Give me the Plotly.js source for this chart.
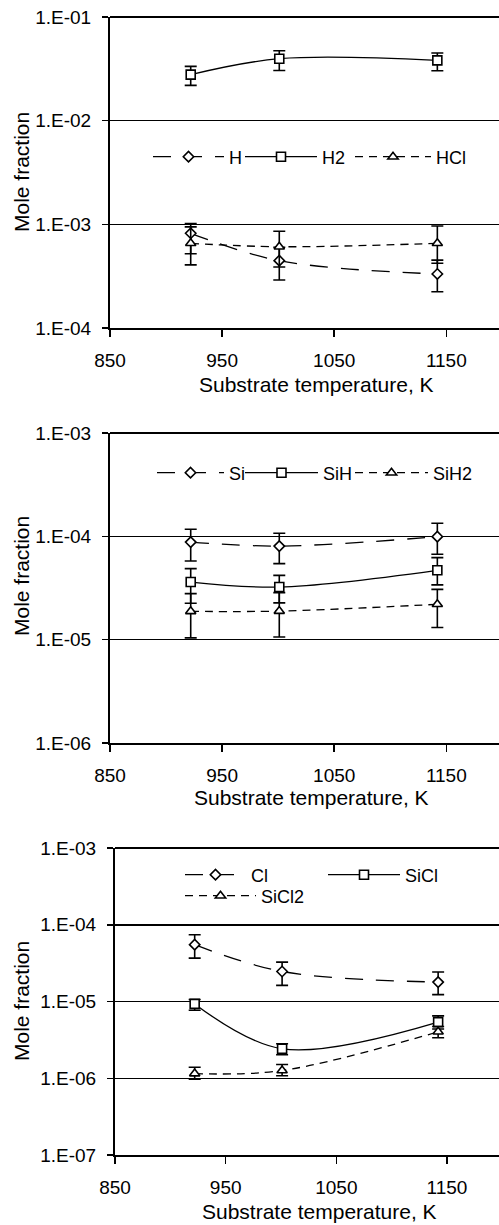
<!DOCTYPE html>
<html><head><meta charset="utf-8">
<script src="https://cdn.plot.ly/plotly-3.0.1.min.js"></script>
<style>html,body{margin:0;padding:0;background:#fff}#chart{width:499px;height:1225px}</style>
</head><body><div id="chart"></div>
<script>
// ---- data ----
const temps = [922, 1001, 1142];

// Panel 1
const H = [8.2e-4, 4.46e-4, 3.32e-4];
const H_plus = [2.0e-4, 1.56e-4, 1.2e-4];
const H_minus = [3.0e-4, 1.56e-4, 1.08e-4];
const H2 = [2.78e-2, 3.96e-2, 3.82e-2];
const H2_plus = [0.56e-2, 0.77e-2, 0.68e-2];
const H2_minus = [0.59e-2, 0.91e-2, 0.79e-2];
const HCl = [6.56e-4, 6.08e-4, 6.56e-4];
const HCl_plus = [2.9e-4, 2.5e-4, 3.07e-4];
const HCl_minus = [2.5e-4, 2.2e-4, 2.35e-4];

// Panel 2
const Si = [8.8e-5, 8.05e-5, 9.93e-5];
const Si_plus = [2.9e-5, 2.65e-5, 3.47e-5];
const Si_minus = [3.03e-5, 2.61e-5, 3.23e-5];
const SiH = [3.61e-5, 3.23e-5, 4.69e-5];
const SiH_plus = [1.26e-5, 0.96e-5, 1.53e-5];
const SiH_minus = [1.36e-5, 0.96e-5, 1.3e-5];
const SiH2 = [1.88e-5, 1.89e-5, 2.2e-5];
const SiH2_plus = [0.91e-5, 0.96e-5, 0.87e-5];
const SiH2_minus = [0.84e-5, 0.83e-5, 0.89e-5];

// Panel 3
const Cl = [5.5e-5, 2.46e-5, 1.79e-5];
const Cl_plus = [1.9e-5, 0.8e-5, 0.63e-5];
const Cl_minus = [1.83e-5, 0.84e-5, 0.56e-5];
const SiCl = [9.3e-6, 2.42e-6, 5.39e-6];
const SiCl_plus = [1.3e-6, 0.4e-6, 1.1e-6];
const SiCl_minus = [1.6e-6, 0.4e-6, 1.0e-6];
const SiCl2 = [1.15e-6, 1.26e-6, 4.03e-6];
const SiCl2_plus = [0.24e-6, 0.25e-6, 0.7e-6];
const SiCl2_minus = [0.18e-6, 0.18e-6, 0.66e-6];

// ticks
const xTicks = [850, 950, 1050, 1150];
const yTicks1 = [1e-4, 1e-3, 1e-2, 1e-1];
const yLabels1 = ['1.E-04', '1.E-03', '1.E-02', '1.E-01'];
const yTicks2 = [1e-6, 1e-5, 1e-4, 1e-3];
const yLabels2 = ['1.E-06', '1.E-05', '1.E-04', '1.E-03'];
const yTicks3 = [1e-7, 1e-6, 1e-5, 1e-4, 1e-3];
const yLabels3 = ['1.E-07', '1.E-06', '1.E-05', '1.E-04', '1.E-03'];

const xTitle = 'Substrate temperature, K';
const yTitle = 'Mole fraction';

// ---- styling ----
const LONG = '18px,13px';
const SHORT = '8px,6px';
const SYM = {
  diamond: {symbol: 'diamond', size: 8},
  square: {symbol: 'square', size: 9},
  triangle: {symbol: 'triangle-up', size: 9}
};

function tr(name, y, plus, minus, xa, ya, sym, dash, legend) {
  return {
    type: 'scatter', mode: 'lines+markers', x: temps, y: y, name: name,
    xaxis: xa, yaxis: ya, legend: legend,
    line: {color: '#000', width: 1.3, dash: dash, shape: 'spline', smoothing: 1},
    marker: {symbol: SYM[sym].symbol, size: SYM[sym].size, color: '#fff', line: {color: '#000', width: 1.6}},
    error_y: {type: 'data', symmetric: false, array: plus, arrayminus: minus, color: '#000', thickness: 1.6, width: 6},
    cliponaxis: false
  };
}

const data = [
  tr('H', H, H_plus, H_minus, 'x', 'y', 'diamond', LONG, 'legend'),
  tr('H2', H2, H2_plus, H2_minus, 'x', 'y', 'square', 'solid', 'legend2'),
  tr('HCl', HCl, HCl_plus, HCl_minus, 'x', 'y', 'triangle', SHORT, 'legend3'),
  tr('Si', Si, Si_plus, Si_minus, 'x2', 'y2', 'diamond', LONG, 'legend4'),
  tr('SiH', SiH, SiH_plus, SiH_minus, 'x2', 'y2', 'square', 'solid', 'legend5'),
  tr('SiH2', SiH2, SiH2_plus, SiH2_minus, 'x2', 'y2', 'triangle', SHORT, 'legend6'),
  tr('Cl', Cl, Cl_plus, Cl_minus, 'x3', 'y3', 'diamond', LONG, 'legend7'),
  tr('SiCl', SiCl, SiCl_plus, SiCl_minus, 'x3', 'y3', 'square', 'solid', 'legend8'),
  tr('SiCl2', SiCl2, SiCl2_plus, SiCl2_minus, 'x3', 'y3', 'triangle', SHORT, 'legend9')
];

const W = 499, Hh = 1225;
const px = v => v / W;
const py = v => 1 - v / Hh;

function xax(left, anchor) {
  return {
    domain: [px(left), 1], anchor: anchor, range: [850, 1197],
    tickmode: 'array', tickvals: xTicks, ticktext: xTicks.map(String),
    ticks: 'outside', ticklen: 7, tickwidth: 1.5, tickcolor: '#000',
    showline: true, linewidth: 2, linecolor: '#000',
    showgrid: false, zeroline: false, ticklabelstandoff: 7,
    tickfont: {size: 19}
  };
}
function yax(top, bottom, range, vals, labels, anchor) {
  return {
    domain: [py(bottom), py(top)], anchor: anchor, type: 'log', range: range,
    tickmode: 'array', tickvals: vals, ticktext: labels,
    ticks: 'outside', ticklen: 6, tickwidth: 1.5, tickcolor: '#000',
    showline: true, linewidth: 2, linecolor: '#000',
    showgrid: true, gridcolor: '#000', gridwidth: 1.5, zeroline: false,
    ticklabelstandoff: 7, tickfont: {size: 19}
  };
}

function legendAt(x, y, iw) {
  return {
    orientation: 'h', x: px(x), xanchor: 'left', y: py(y), yanchor: 'middle',
    bgcolor: 'rgba(0,0,0,0)', borderwidth: 0, font: {size: 18},
    itemwidth: iw, itemclick: false, itemdoubleclick: false
  };
}

function ann(text, x, y, angle, size) {
  return {text: text, x: px(x), y: py(y), xref: 'paper', yref: 'paper',
    xanchor: 'center', yanchor: 'middle', showarrow: false, textangle: angle,
    font: {size: size}};
}

function topLine(xref, yref) {
  return {type: 'line', xref: xref + ' domain', yref: yref + ' domain', x0: 0, x1: 1, y0: 1, y1: 1,
    line: {color: '#000', width: 2}};
}

const layout = {
  width: W, height: Hh, margin: {l: 0, r: 0, t: 0, b: 0},
  paper_bgcolor: '#fff', plot_bgcolor: '#fff', showlegend: true,
  font: {family: 'Arial, "Liberation Sans", Helvetica, sans-serif', color: '#000', size: 19},
  xaxis: xax(110, 'y'),
  yaxis: yax(17, 328, [-4, -1], yTicks1, yLabels1, 'x'),
  xaxis2: xax(110, 'y2'),
  yaxis2: yax(433, 743, [-6, -3], yTicks2, yLabels2, 'x2'),
  xaxis3: xax(115, 'y3'),
  yaxis3: yax(848, 1155, [-7, -3], yTicks3, yLabels3, 'x3'),
  legend: legendAt(148, 157, 71),
  legend2: legendAt(240, 157, 72),
  legend3: legendAt(350, 157, 76),
  legend4: legendAt(152, 473, 67),
  legend5: legendAt(240, 473, 73),
  legend6: legendAt(350, 473, 73),
  legend7: legendAt(180, 875, 61),
  legend8: legendAt(323, 875, 72),
  legend9: legendAt(180, 896, 71),
  annotations: [
    ann(xTitle, 316, 384, 0, 21),
    ann(xTitle, 311, 797, 0, 21),
    ann(xTitle, 319, 1211, 0, 21),
    ann(yTitle, 21, 172, -90, 21),
    ann(yTitle, 21, 576, -90, 21),
    ann(yTitle, 21, 1001, -90, 21)
  ],
  shapes: [topLine('x', 'y'), topLine('x2', 'y2'), topLine('x3', 'y3')]
};

Plotly.newPlot('chart', data, layout, {staticPlot: true, displayModeBar: false});
</script>
</body></html>
